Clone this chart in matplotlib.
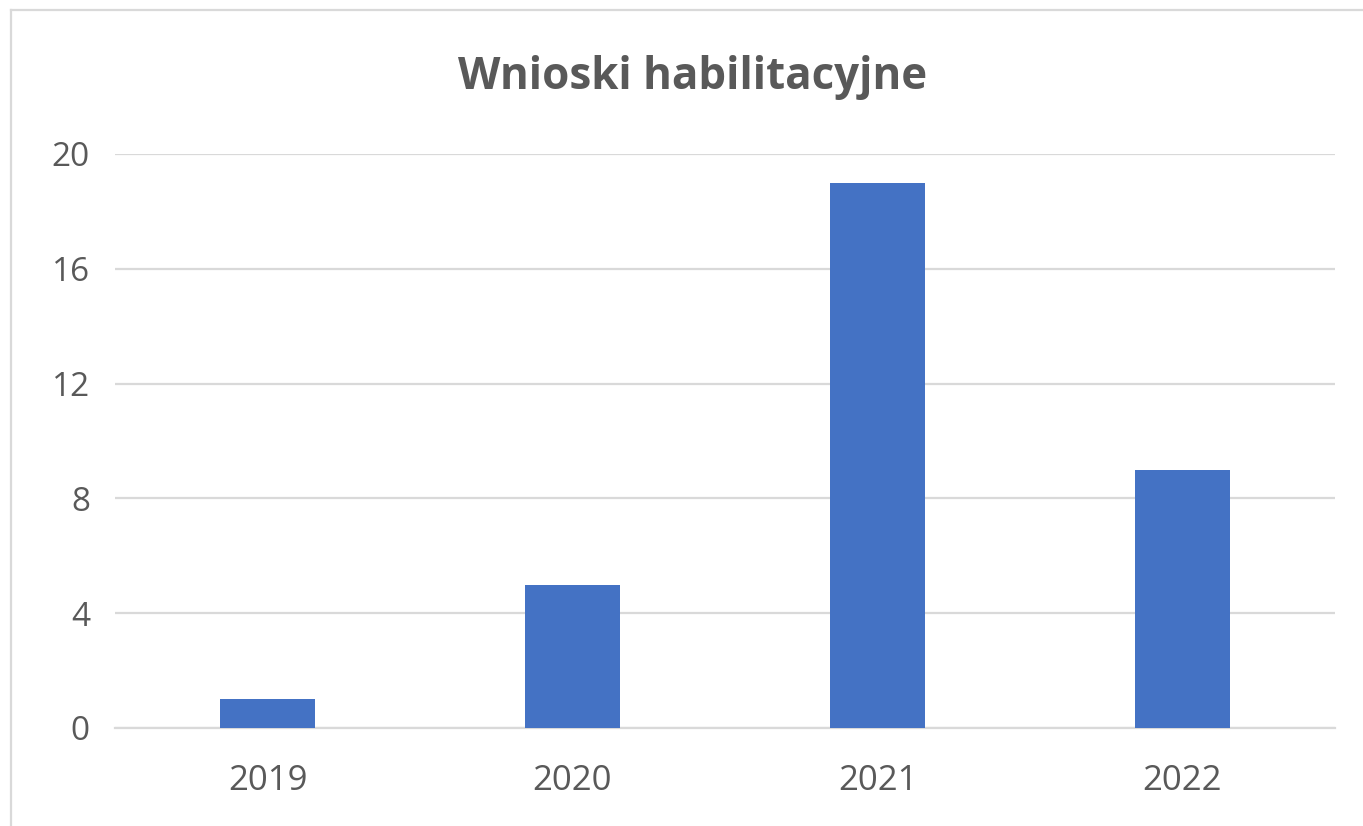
import matplotlib
matplotlib.use("Agg")
import matplotlib.pyplot as plt
from matplotlib.lines import Line2D

years = ["2019", "2020", "2021", "2022"]
values = [1, 5, 19, 9]
yticks = [0, 4, 8, 12, 16, 20]
title = "Wnioski habilitacyjne"

W, H = 1363, 826
fig = plt.figure(figsize=(W / 100, H / 100), dpi=100)
plt.rcParams['font.family'] = ['Open Sans', 'DejaVu Sans']

ax = fig.add_axes([115 / W, 1 - 728 / H, (1335 - 115) / W, (728 - 154) / H])
x = list(range(len(years)))
ax.bar(x, values, width=0.31, color="#4472C4", zorder=3)
ax.set_xlim(-0.5, 3.5)
ax.set_ylim(0, 20)
ax.set_yticks(yticks)
ax.set_xticks(x)
ax.set_xticklabels(years)
ax.yaxis.grid(True, color="#d9d9d9", linewidth=1.6, zorder=0)
ax.set_axisbelow(True)
for s in ["top", "right", "left"]:
    ax.spines[s].set_visible(False)
ax.spines["bottom"].set_color("#d9d9d9")
ax.spines["bottom"].set_linewidth(1.6)
ax.tick_params(axis="x", length=0, labelsize=25, labelcolor="#595959", pad=26)
ax.tick_params(axis="y", length=0, labelsize=24, labelcolor="#595959", pad=18)

fig.text(693 / W, 1 - 77 / H, title, ha="center", va="center", fontsize=31.6,
         fontweight="bold", color="#595959")

# chart border
fig.add_artist(Line2D([11 / W, 11 / W], [0, 1 - 10 / H], transform=fig.transFigure,
                      color="#d9d9d9", linewidth=1.6))
fig.add_artist(Line2D([11 / W, 1], [1 - 10 / H, 1 - 10 / H], transform=fig.transFigure,
                      color="#d9d9d9", linewidth=1.6))

fig.savefig("out.png", dpi=100)
